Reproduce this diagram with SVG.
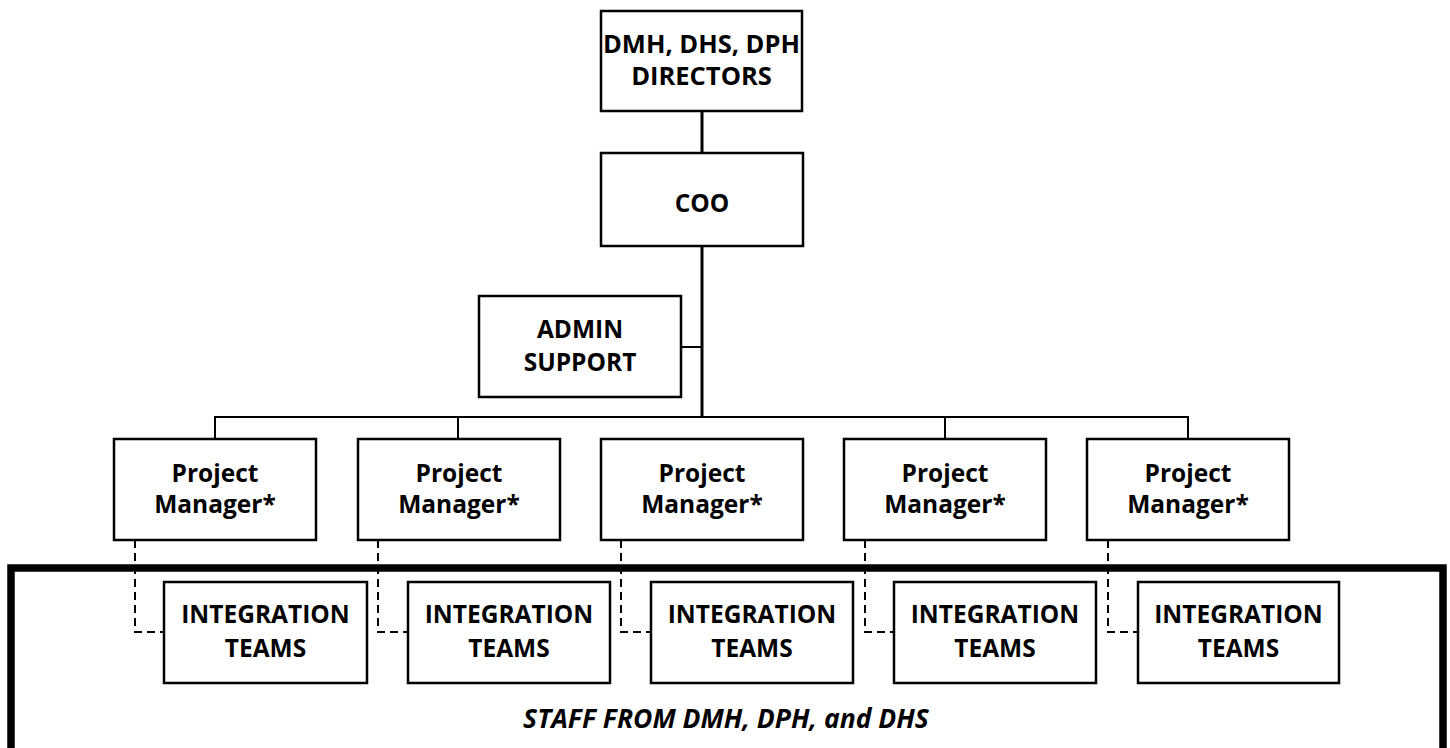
<svg xmlns="http://www.w3.org/2000/svg" width="1450" height="748" viewBox="0 0 1450 748">
<style>
.box{fill:#fff;stroke:#000;stroke-width:2.5}
.t{font-family:"Open Sans","Liberation Sans",sans-serif;font-weight:bold;font-size:24.5px;fill:#000;text-anchor:middle}
.ti{font-style:italic;font-size:26.5px}
.c{stroke:#000;stroke-width:2;fill:none}
.ct{stroke:#000;stroke-width:3;fill:none}
.d{stroke:#000;stroke-width:2;fill:none;stroke-dasharray:8 5}
</style>
<rect width="1450" height="748" fill="#fff"/>
<g id="staff-frame">
<rect x="11" y="568" width="1432" height="220" fill="none" stroke="#000" stroke-width="7.5"/>
<text class="t ti" x="726" y="728">STAFF FROM DMH, DPH, and DHS</text>
</g>
<g id="connectors">
<line class="ct" x1="702" y1="111" x2="702" y2="153"/>
<line class="ct" x1="702" y1="246" x2="702" y2="418"/>
<line class="c" x1="681" y1="347" x2="702" y2="347"/>
<polyline class="c" points="215,439 215,417 1188,417 1188,439"/>
<line class="c" x1="458" y1="417" x2="458" y2="439"/>
<line class="c" x1="945" y1="417" x2="945" y2="439"/>
<polyline class="d" points="135,540 135,632 164,632"/>
<polyline class="d" points="378,540 378,632 408,632"/>
<polyline class="d" points="621,540 621,632 651,632"/>
<polyline class="d" points="865,540 865,632 894,632"/>
<polyline class="d" points="1108,540 1108,632 1138,632"/>
</g>
<g id="directors">
<rect class="box" x="601" y="11" width="201" height="100"/>
<text class="t" x="701.5" y="53" style="font-size:25.5px">DMH, DHS, DPH</text>
<text class="t" x="701.5" y="85" style="font-size:25.5px">DIRECTORS</text>
</g>
<g id="coo">
<rect class="box" x="601" y="153" width="202" height="93"/>
<text class="t" x="702" y="212">COO</text>
</g>
<g id="admin">
<rect class="box" x="479" y="296" width="202" height="101"/>
<text class="t" x="580" y="338">ADMIN</text>
<text class="t" x="580" y="371">SUPPORT</text>
</g>
<g id="pm1">
<rect class="box" x="114" y="439" width="202" height="101"/>
<text class="t" x="215" y="482">Project</text>
<text class="t" x="215" y="513">Manager*</text>
</g>
<g id="pm2">
<rect class="box" x="358" y="439" width="202" height="101"/>
<text class="t" x="459" y="482">Project</text>
<text class="t" x="459" y="513">Manager*</text>
</g>
<g id="pm3">
<rect class="box" x="601" y="439" width="202" height="101"/>
<text class="t" x="702" y="482">Project</text>
<text class="t" x="702" y="513">Manager*</text>
</g>
<g id="pm4">
<rect class="box" x="844" y="439" width="202" height="101"/>
<text class="t" x="945" y="482">Project</text>
<text class="t" x="945" y="513">Manager*</text>
</g>
<g id="pm5">
<rect class="box" x="1087" y="439" width="202" height="101"/>
<text class="t" x="1188" y="482">Project</text>
<text class="t" x="1188" y="513">Manager*</text>
</g>
<g id="team1">
<rect class="box" x="164" y="582" width="203" height="101"/>
<text class="t" x="265.5" y="623">INTEGRATION</text>
<text class="t" x="265.5" y="657">TEAMS</text>
</g>
<g id="team2">
<rect class="box" x="408" y="582" width="202" height="101"/>
<text class="t" x="509" y="623">INTEGRATION</text>
<text class="t" x="509" y="657">TEAMS</text>
</g>
<g id="team3">
<rect class="box" x="651" y="582" width="202" height="101"/>
<text class="t" x="752" y="623">INTEGRATION</text>
<text class="t" x="752" y="657">TEAMS</text>
</g>
<g id="team4">
<rect class="box" x="894" y="582" width="202" height="101"/>
<text class="t" x="995" y="623">INTEGRATION</text>
<text class="t" x="995" y="657">TEAMS</text>
</g>
<g id="team5">
<rect class="box" x="1138" y="582" width="201" height="101"/>
<text class="t" x="1238.5" y="623">INTEGRATION</text>
<text class="t" x="1238.5" y="657">TEAMS</text>
</g>
</svg>
